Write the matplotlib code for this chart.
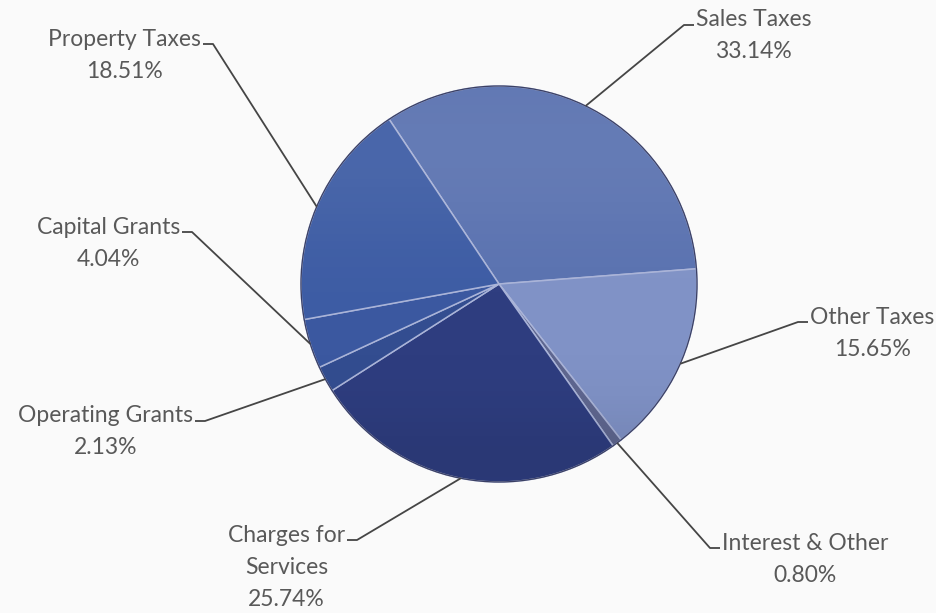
import numpy as np
import matplotlib.pyplot as plt
from matplotlib.patches import Circle

# Revenue shares by source (percent), clockwise from the upper left
categories = ["Sales Taxes", "Other Taxes", "Interest & Other", "Charges for\nServices",
              "Operating Grants", "Capital Grants", "Property Taxes"]
shares = [33.14, 15.65, 0.80, 25.74, 2.13, 4.04, 18.51]
colors = ["#5a72b0", "#8092c6", "#5f6790", "#2e3d7f", "#334d90", "#3b58a0", "#3d5ca4"]

# Label layout: elbow of the leader line (px, top-left origin), text side
label_elbows = [(684, 25), (798, 322), (710, 548), (357, 540), (205, 421), (192, 232), (213, 44)]
label_sides = ["left", "left", "left", "right", "right", "right", "right"]

W, H = 936, 613
fig = plt.figure(figsize=(W / 100, H / 100), dpi=100, facecolor="#fafafa")
ax = fig.add_axes([0, 0, 1, 1])
ax.set_facecolor("#fafafa")

cx, cy, R = 499, H - 284, 198
wedges, _ = ax.pie(shares, colors=colors, startangle=123.7, counterclock=False,
                   center=(cx, cy), radius=R,
                   wedgeprops=dict(edgecolor="#aab4d8", linewidth=1.1))
ax.set_xlim(0, W)
ax.set_ylim(0, H)
ax.axis("off")

# soft vertical sheen across the disc
g = np.linspace(0, 1, 256)
sheen = np.zeros((256, 1, 4))
sheen[:, 0, :3] = np.where(g < 0.6, 1.0, 0.0)[:, None]
sheen[:, 0, 3] = (0.07 * np.exp(-((g - 0.15) / 0.25) ** 2)
                  + 0.08 * np.exp(-((g - 0.95) / 0.15) ** 2))
im = ax.imshow(sheen, extent=(cx - R, cx + R, cy - R, cy + R), aspect="auto",
               origin="upper", zorder=3)
im.set_clip_path(Circle((cx, cy), R, transform=ax.transData))
ax.add_patch(Circle((cx, cy), R, fill=False, edgecolor="#3b4064", linewidth=0.9, zorder=4))
ax.set_xlim(0, W)
ax.set_ylim(0, H)

text_color = "#595959"
fs = 16.5
fig.canvas.draw()
for w, name, pct, (ex, ey), side in zip(wedges, categories, shares, label_elbows, label_sides):
    mid = np.deg2rad((w.theta1 + w.theta2) / 2)
    px, py = cx + R * np.cos(mid), cy + R * np.sin(mid)
    ey = H - ey
    hx = ex + (10 if side == "left" else -10)
    ax.plot([px, ex, hx], [py, ey, ey], color="#454545", linewidth=1.3, zorder=5,
            solid_capstyle="butt")
    tx = hx + (2 if side == "left" else -2)
    # the first line sits beside the elbow; the rest are centred beneath it
    lines = name.split("\n") + [f"{pct:.2f}%"]
    first = ax.text(tx, ey + 5, lines[0], ha=side, va="center", fontsize=fs,
                    color=text_color, family="Lato", zorder=6)
    bb = first.get_window_extent(renderer=fig.canvas.get_renderer()).transformed(
        ax.transData.inverted())
    xc = (bb.x0 + bb.x1) / 2
    for i, ln in enumerate(lines[1:], start=1):
        ax.text(xc, ey + 5 - 32 * i, ln, ha="center", va="center", fontsize=fs,
                color=text_color, family="Lato", zorder=6)

fig.savefig("out.png", dpi=100, facecolor=fig.get_facecolor())
